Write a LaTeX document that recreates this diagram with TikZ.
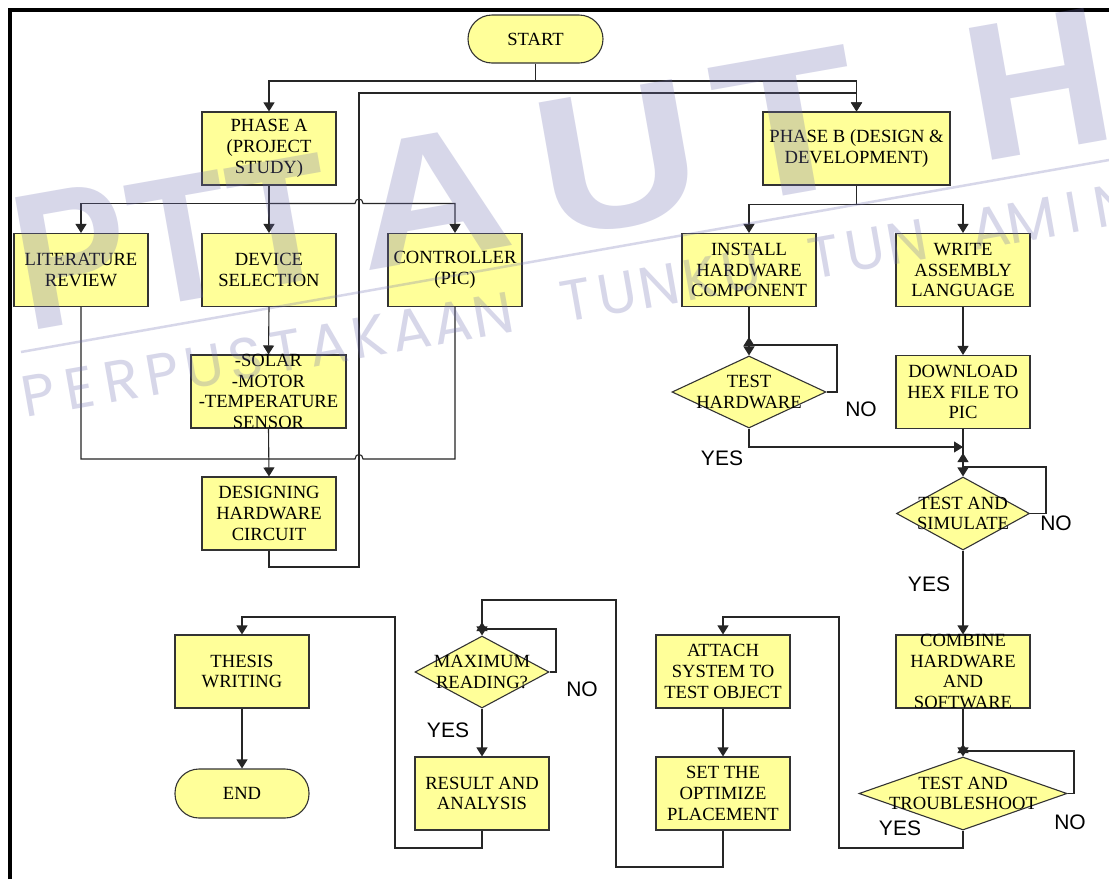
\documentclass[tikz,border=0pt]{standalone}
\usepackage{fontspec}
\usetikzlibrary{shapes.geometric,arrows.meta}
\newfontfamily\tmr{Liberation Serif}
\newfontfamily\ari{Liberation Sans}
\newfontfamily\wmf{Poppins}
\definecolor{boxfill}{RGB}{255,255,153}
\definecolor{wmc}{RGB}{112,112,178}
\begin{document}
\begin{tikzpicture}[x=1pt,y=-1pt,
  box/.style={draw=black!80, fill=boxfill, line width=1.1pt, inner sep=0pt},
  rbox/.style={box, rectangle, minimum width=134pt, minimum height=73pt},
  term/.style={box, rectangle, rounded corners=24pt, minimum width=134pt, minimum height=48pt},
  dia/.style={box, diamond},
  lbl/.style={font=\tmr\fontsize{18.6}{20.7}\selectfont, align=center, inner sep=0pt},
  yn/.style={font=\ari\fontsize{21}{21}\selectfont, inner sep=0pt},
  ln/.style={line width=1.1pt, draw=black!85},
  arr/.style={ln, -{Triangle[length=9pt,width=11pt]}},
  wmbig/.style={font=\ari\bfseries\fontsize{180}{180}\selectfont, text=wmc, opacity=0.28, inner sep=0pt, anchor=base, transform shape},
  wmsmall/.style={font=\wmf\fontsize{58}{58}\selectfont, text=wmc, opacity=0.28, inner sep=0pt, anchor=base, transform shape}
]
\useasboundingbox (0,0) rectangle (1109,879);
\clip (0,0) rectangle (1109,879);
\fill[white] (0,0) rectangle (1109,879);

% frame
\draw[line width=4pt] (10,879) -- (10,10) -- (1109,10);

% nodes
\node[term, minimum width=135pt, label={[lbl]center:START}] (start) at (535.5,39) {};
\node[rbox, label={[lbl]center:PHASE A\\(PROJECT\\STUDY)}] (phA) at (269,148.5) {};
\node[rbox, minimum width=187pt, label={[lbl]center:PHASE B (DESIGN \&\\DEVELOPMENT)}] (phB) at (856.5,148.5) {};
\node[rbox, label={[lbl]center:LITERATURE\\REVIEW}] (lit) at (81,270) {};
\node[rbox, label={[lbl]center:DEVICE\\SELECTION}] (dev) at (269,270) {};
\node[rbox, label={[lbl]center:CONTROLLER\\(PIC)}] (ctrl) at (455,270) {};
\node[rbox, minimum width=155pt, label={[lbl]center:-SOLAR\\-MOTOR\\-TEMPERATURE\\SENSOR}] (sol) at (268.5,391.5) {};
\node[rbox, label={[lbl]center:DESIGNING\\HARDWARE\\CIRCUIT}] (des) at (269,513.5) {};
\node[rbox, label={[lbl]center:INSTALL\\HARDWARE\\COMPONENT}] (inst) at (749,270) {};
\node[rbox, label={[lbl]center:WRITE\\ASSEMBLY\\LANGUAGE}] (wr) at (963,270) {};
\node[dia, minimum width=154pt, minimum height=72pt, label={[lbl]center:TEST\\HARDWARE}] (thw) at (749,392) {};
\node[rbox, label={[lbl]center:DOWNLOAD\\HEX FILE TO\\PIC}] (dl) at (963,392) {};
\node[dia, minimum width=133pt, minimum height=73pt, label={[lbl]center:TEST AND\\SIMULATE}] (tsim) at (963,513.5) {};
\node[rbox, label={[lbl]center:COMBINE\\HARDWARE\\AND\\SOFTWARE}] (comb) at (963,671.5) {};
\node[dia, minimum width=208pt, minimum height=73pt, label={[lbl]center:TEST AND\\TROUBLESHOOT}] (tts) at (963,793.5) {};
\node[rbox, label={[lbl]center:ATTACH\\SYSTEM TO\\TEST OBJECT}] (att) at (723,671.5) {};
\node[rbox, label={[lbl]center:SET THE\\OPTIMIZE\\PLACEMENT}] (setp) at (723,793.5) {};
\node[dia, minimum width=134pt, minimum height=72pt, label={[lbl]center:MAXIMUM\\READING?}] (maxr) at (482,672) {};
\node[rbox, label={[lbl]center:RESULT AND\\ANALYSIS}] (res) at (482,793.5) {};
\node[rbox, label={[lbl]center:THESIS\\WRITING}] (thes) at (242,671.5) {};
\node[term, minimum height=49pt, label={[lbl]center:END}] (endn) at (242,793.5) {};

% YES / NO labels
\node[yn] (no1) at (861,409) {NO};
\node[yn] (yes1) at (722,458) {YES};
\node[yn] (no2) at (1056,523) {NO};
\node[yn] (yes2) at (929,584) {YES};
\node[yn] (no3) at (582,689) {NO};
\node[yn] (yes3) at (448,730) {YES};
\node[yn] (yes4) at (900,828) {YES};
\node[yn] (no4) at (1070,822) {NO};

% coordinates
\coordinate (sj) at (535.5,81);
\coordinate (hA) at (269,203.5);
\coordinate (dj) at (359,567);
\coordinate (j1) at (963,447);

% connectors: start and phase A
\draw[arr] (start.south) -- (sj) -| (phA.north);
\draw[arr] (sj) -| (phB.north);
\draw[arr] (des.south) |- (dj) -- (359,93) -| (phB.north);
\draw[arr] (phA.south) -- (dev.north);
\draw[arr] (hA) -| (lit.north);
\draw[arr] (hA) -- (355,203.5) .. controls (355,197.5) and (363,197.5) .. (363,203.5) -| (ctrl.north);
\draw[arr] (dev.south) -- (sol.north);
\draw[arr] (sol.south) -- (des.north);
\draw[ln] (lit.south) |- (355,459) .. controls (355,453) and (363,453) .. (363,459) -| (ctrl.south);

% phase B
\draw[arr] (phB.south) -- ++(0,18.5) -| (inst.north);
\draw[arr] (phB.south) -- ++(0,18.5) -| (wr.north);
\draw[arr] (inst.south) -- (thw.north);
\draw[arr] (thw.east) -- (837,392) -- (837,345) -- (749,345) -- (749,337);
\draw[arr] (thw.south) |- (j1);
\draw[arr] (wr.south) -- (dl.north);
\draw[arr] (dl.south) -- (tsim.north);
\draw[arr] (tsim.east) -- (1046,513.5) -- (1046,467) -- (963,467) -- (963,453);
\draw[arr] (tsim.south) -- (comb.north);
\draw[arr] (comb.south) -- (tts.north);
\draw[arr] (tts.east) -- (1074,793.5) -- (1074,751) -- (963,751) -- (963,744);
\draw[arr] (tts.south) -- (963,848) -- (839,848) -- (839,617) -| (att.north);
\draw[arr] (att.south) -- (setp.north);
\draw[arr] (setp.south) -- (723,867) -- (616,867) -- (616,600) -| (maxr.north);
\draw[arr] (maxr.east) -- (556,672) -- (556,629) -- (482,629) -- (482,622);
\draw[arr] (maxr.south) -- (res.north);
\draw[arr] (res.south) -- (482,848) -- (395,848) -- (395,617) -| (thes.north);
\draw[arr] (thes.south) -- (endn.north);

% watermark
\begin{scope}[shift={(84,322)}, rotate=10, xscale=0.95, yscale=1.08]\node[wmbig] (wP) at (0,0) {P};\end{scope}
\begin{scope}[shift={(192,300)}, rotate=10, xscale=0.9]\node[wmbig] (wT1) at (0,0) {T};\end{scope}
\begin{scope}[shift={(292,283)}, rotate=10, xscale=0.9]\node[wmbig] (wT2) at (0,0) {T};\end{scope}
\begin{scope}[shift={(441,258)}, rotate=10, xscale=1.2]\node[wmbig] (wA) at (0,0) {A};\end{scope}
\begin{scope}[shift={(630,225)}, rotate=10, xscale=1.25, yscale=1.1]\node[wmbig] (wU) at (0,0) {U};\end{scope}
\begin{scope}[shift={(800,193)}, rotate=10, xscale=1.3, yscale=1.12]\node[wmbig] (wT3) at (0,0) {T};\end{scope}
\begin{scope}[shift={(1050,150)}, rotate=10, xscale=1.1, yscale=1.08]\node[wmbig] (wH) at (0,0) {H};\end{scope}
\begin{scope}[shift={(1215,120)}, rotate=10, xscale=1.1, yscale=1.08]\node[wmbig] (wM) at (0,0) {M};\end{scope}
\draw[wmc, opacity=0.28, line width=2.5pt] (21,352) -- (1109,160);
\begin{scope}[shift={(42,415)}, rotate=10]
\foreach \c [count=\i from 0] in {P,E,R,P,U,S,T,A,K,A,A,N,{},T,U,N,K,U,{},T,U,N,{},A,M,I,N,A,H}
  \node[wmsmall] at (\i*42,0) {\c};
\end{scope}
\end{tikzpicture}
\end{document}
